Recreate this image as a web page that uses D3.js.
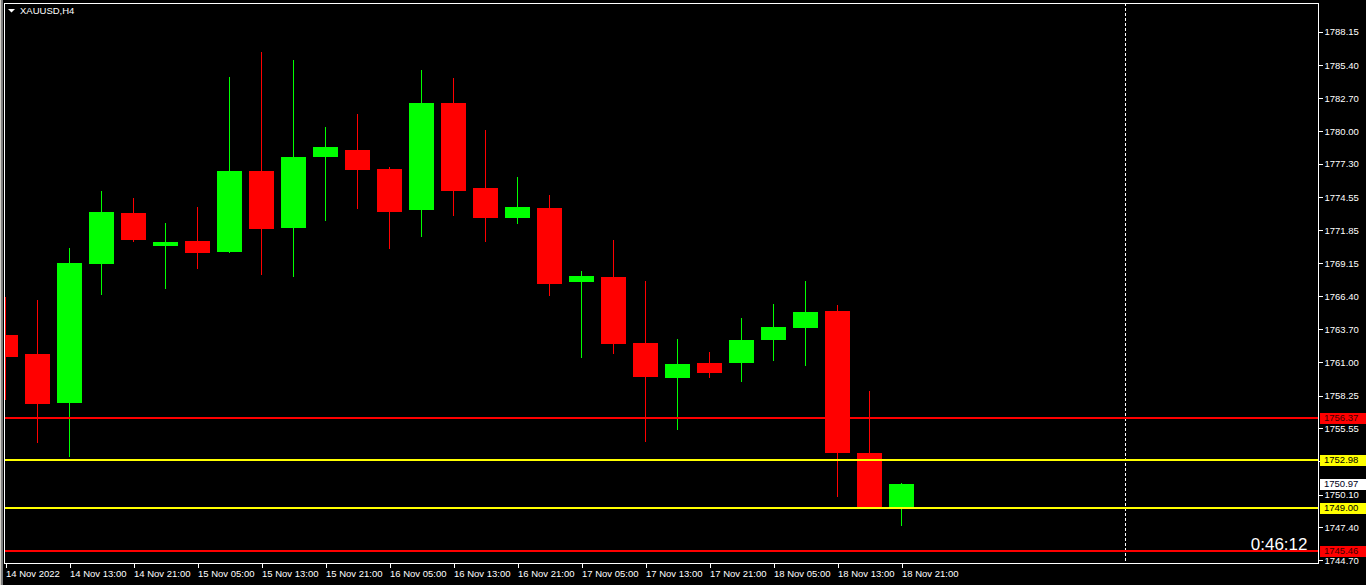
<!DOCTYPE html>
<html>
<head>
<meta charset="utf-8">
<script src="https://cdn.jsdelivr.net/npm/d3@7"></script>
<style>
  html, body { margin: 0; padding: 0; background: #000; overflow: hidden; }
  svg { display: block; }
  text { font-family: "Liberation Sans", Arial, sans-serif; }
</style>
</head>
<body>
<svg id="chart" width="1366" height="585"></svg>
<script>
// ---------------- DATA ----------------
const symbol = "XAUUSD,H4";
const times = ["14 Nov 05:00","14 Nov 09:00","14 Nov 13:00","14 Nov 17:00","14 Nov 21:00",
  "15 Nov 01:00","15 Nov 05:00","15 Nov 09:00","15 Nov 13:00","15 Nov 17:00","15 Nov 21:00",
  "16 Nov 01:00","16 Nov 05:00","16 Nov 09:00","16 Nov 13:00","16 Nov 17:00","16 Nov 21:00",
  "17 Nov 01:00","17 Nov 05:00","17 Nov 09:00","17 Nov 13:00","17 Nov 17:00","17 Nov 21:00",
  "18 Nov 01:00","18 Nov 05:00","18 Nov 09:00","18 Nov 13:00","18 Nov 17:00","18 Nov 21:00"];
const opens  = [1763.23,1761.67,1757.66,1769.07,1773.26,1770.55,1770.96,1770.05,1776.71,1772.03,
                1777.87,1778.44,1776.88,1773.51,1782.31,1775.32,1772.85,1773.67,1767.59,1768.00,
                1762.57,1759.69,1760.93,1760.93,1762.82,1763.80,1765.20,1753.52,1749.00];
const highs  = [1766.38,1766.11,1770.38,1775.07,1774.49,1772.44,1773.75,1784.44,1786.50,1785.84,
                1780.33,1781.40,1777.04,1785.02,1784.36,1780.09,1776.22,1774.74,1768.49,1771.04,
                1767.67,1762.90,1761.83,1764.63,1765.78,1767.67,1765.70,1758.62,1751.05];
const lows   = [1757.88,1754.37,1753.22,1766.52,1770.90,1767.01,1768.66,1769.97,1768.16,1768.00,
                1772.60,1773.59,1770.30,1771.29,1773.01,1770.88,1772.36,1766.44,1761.34,1761.67,
                1754.43,1755.42,1759.69,1759.36,1761.09,1760.68,1749.91,1749.00,1747.52];
const closes = [1761.44,1757.58,1769.15,1773.34,1771.04,1770.88,1769.97,1776.71,1771.95,1777.87,
                1778.69,1776.80,1773.34,1782.31,1775.07,1772.85,1773.75,1767.42,1768.08,1762.49,
                1759.77,1760.84,1760.10,1762.82,1763.89,1765.12,1753.52,1749.08,1750.97];

const xTickTimes  = ["14 Nov 05:00","14 Nov 13:00","14 Nov 21:00","15 Nov 05:00","15 Nov 13:00",
  "15 Nov 21:00","16 Nov 05:00","16 Nov 13:00","16 Nov 21:00","17 Nov 05:00","17 Nov 13:00",
  "17 Nov 21:00","18 Nov 05:00","18 Nov 13:00","18 Nov 21:00"];
const xTickLabels = ["14 Nov 2022","14 Nov 13:00","14 Nov 21:00","15 Nov 05:00","15 Nov 13:00",
  "15 Nov 21:00","16 Nov 05:00","16 Nov 13:00","16 Nov 21:00","17 Nov 05:00","17 Nov 13:00",
  "17 Nov 21:00","18 Nov 05:00","18 Nov 13:00","18 Nov 21:00"];
const yTicks = [1788.15,1785.40,1782.70,1780.00,1777.30,1774.55,1771.85,1769.15,1766.40,
                1763.70,1761.00,1758.25,1755.55,1752.85,1750.10,1747.40,1744.70];

const levelPrices = [1756.37, 1752.98, 1749.00, 1745.46];
const levelColors = ["#ff0000", "#ffff00", "#ffff00", "#ff0000"];
const bidPrice = 1750.97;
const vlineBarOffset = 35;      // bar slot index of the dashed vertical line
const timerText = "0:46:12";

// ---------------- LAYOUT ----------------
const W = 1366, H = 585;
const plot = { left: 4, top: 3, right: 1318, bottom: 563 };
const bullColor = "#00ff00", bearColor = "#ff0000";

const svg = d3.select("#chart");
svg.append("rect").attr("width", W).attr("height", H).attr("fill", "#000");

// window border on far left
svg.append("rect").attr("x", 0).attr("y", 0).attr("width", 1).attr("height", H).attr("fill", "#d4d0c8");
svg.append("rect").attr("x", 1).attr("y", 0).attr("width", 2).attr("height", H).attr("fill", "#808080");

const x = d3.scaleLinear().domain([0, times.length - 1]).range([5.5, 5.5 + 32 * (times.length - 1)]);
const y = d3.scaleLinear().domain([1744.48, 1790.53]).range([plot.bottom, plot.top]);
const bodyW = 25;

const defs = svg.append("defs");
defs.append("clipPath").attr("id", "plotClip").append("rect")
  .attr("x", plot.left + 1).attr("y", plot.top + 1)
  .attr("width", plot.right - plot.left - 1).attr("height", plot.bottom - plot.top - 1);

const g = svg.append("g").attr("clip-path", "url(#plotClip)");

const bars = times.map((t, i) => ({ i, o: opens[i], h: highs[i], l: lows[i], c: closes[i] }));

// wicks
g.selectAll("line.wick").data(bars).join("line")
  .attr("class", "wick")
  .attr("x1", d => x(d.i)).attr("x2", d => x(d.i))
  .attr("y1", d => Math.round(y(d.h))).attr("y2", d => Math.round(y(d.l)))
  .attr("stroke", d => d.c >= d.o ? bullColor : bearColor)
  .attr("stroke-width", 1)
  .attr("shape-rendering", "crispEdges");

// bodies
g.selectAll("rect.body").data(bars).join("rect")
  .attr("class", "body")
  .attr("x", d => x(d.i) - bodyW / 2)
  .attr("width", bodyW)
  .attr("y", d => Math.round(y(Math.max(d.o, d.c))))
  .attr("height", d => Math.max(3, Math.round(y(Math.min(d.o, d.c))) - Math.round(y(Math.max(d.o, d.c)))))
  .attr("fill", d => d.c >= d.o ? bullColor : bearColor)
  .attr("shape-rendering", "crispEdges");

// dashed vertical line
g.append("line")
  .attr("x1", x(vlineBarOffset)).attr("x2", x(vlineBarOffset))
  .attr("y1", plot.top).attr("y2", plot.bottom)
  .attr("stroke", "#ffffff").attr("stroke-width", 1)
  .attr("stroke-dasharray", "3,2")
  .attr("shape-rendering", "crispEdges");

// horizontal level lines
g.selectAll("line.level").data(levelPrices).join("line")
  .attr("class", "level")
  .attr("x1", plot.left + 1).attr("x2", plot.right)
  .attr("y1", d => Math.round(y(d))).attr("y2", d => Math.round(y(d)))
  .attr("stroke", (d, i) => levelColors[i]).attr("stroke-width", 2)
  .attr("shape-rendering", "crispEdges");

// frame
svg.append("rect")
  .attr("x", plot.left + 0.5).attr("y", plot.top + 0.5)
  .attr("width", plot.right - plot.left).attr("height", plot.bottom - plot.top)
  .attr("fill", "none").attr("stroke", "#ffffff").attr("stroke-width", 1)
  .attr("shape-rendering", "crispEdges");

// right price axis
const yAxis = d3.axisRight(y).tickValues(yTicks).tickFormat(d3.format(".2f"))
  .tickSize(4).tickPadding(2);
const yg = svg.append("g").attr("transform", `translate(${plot.right + 0.5},0)`).call(yAxis);
yg.select(".domain").remove();
yg.selectAll(".tick line").attr("stroke", "#fff").attr("shape-rendering", "crispEdges");
yg.selectAll(".tick text").attr("fill", "#fff").attr("font-size", "9.5px")
  .attr("font-family", '"Liberation Sans", Arial, sans-serif');

// bottom time axis
const tickIdx = xTickTimes.map(t => times.indexOf(t));
const xAxis = d3.axisBottom(x).tickValues(tickIdx)
  .tickFormat((d, i) => xTickLabels[i]).tickSize(4);
const xg = svg.append("g").attr("transform", `translate(0,${plot.bottom + 0.5})`).call(xAxis);
xg.select(".domain").remove();
xg.selectAll(".tick line").attr("stroke", "#fff").attr("shape-rendering", "crispEdges");
xg.selectAll(".tick text").attr("fill", "#fff").attr("font-size", "9.5px")
  .attr("font-family", '"Liberation Sans", Arial, sans-serif')
  .attr("text-anchor", "start").attr("x", 0).attr("dy", null).attr("y", 13);

// price labels for levels
const tags = levelPrices.map((p, i) => ({ p, bg: levelColors[i], fg: i === 0 || i === 3 ? "#3a0000" : "#000" }));
tags.push({ p: bidPrice, bg: "#ffffff", fg: "#000020" });
const tg = svg.selectAll("g.tag").data(tags).join("g").attr("class", "tag")
  .attr("transform", d => `translate(${plot.right + 2},${Math.round(y(d.p))})`);
tg.append("rect").attr("x", 0).attr("y", -5.5).attr("width", 46).attr("height", 11)
  .attr("fill", d => d.bg).attr("shape-rendering", "crispEdges");
tg.append("text").attr("x", 4).attr("y", 3.4).attr("font-size", "9.5px")
  .attr("fill", d => d.fg).text(d => d.p.toFixed(2));

// title
svg.append("path").attr("d", "M8,9 L15,9 L11.5,12.5 Z").attr("fill", "#fff");
svg.append("text").attr("x", 20).attr("y", 14).attr("font-size", "9.5px").attr("fill", "#fff").text(symbol);

// timer
svg.append("text").attr("x", 1307.5).attr("y", 550).attr("text-anchor", "end")
  .attr("font-size", "17px").attr("fill", "#fff").text(timerText);
</script>
</body>
</html>
